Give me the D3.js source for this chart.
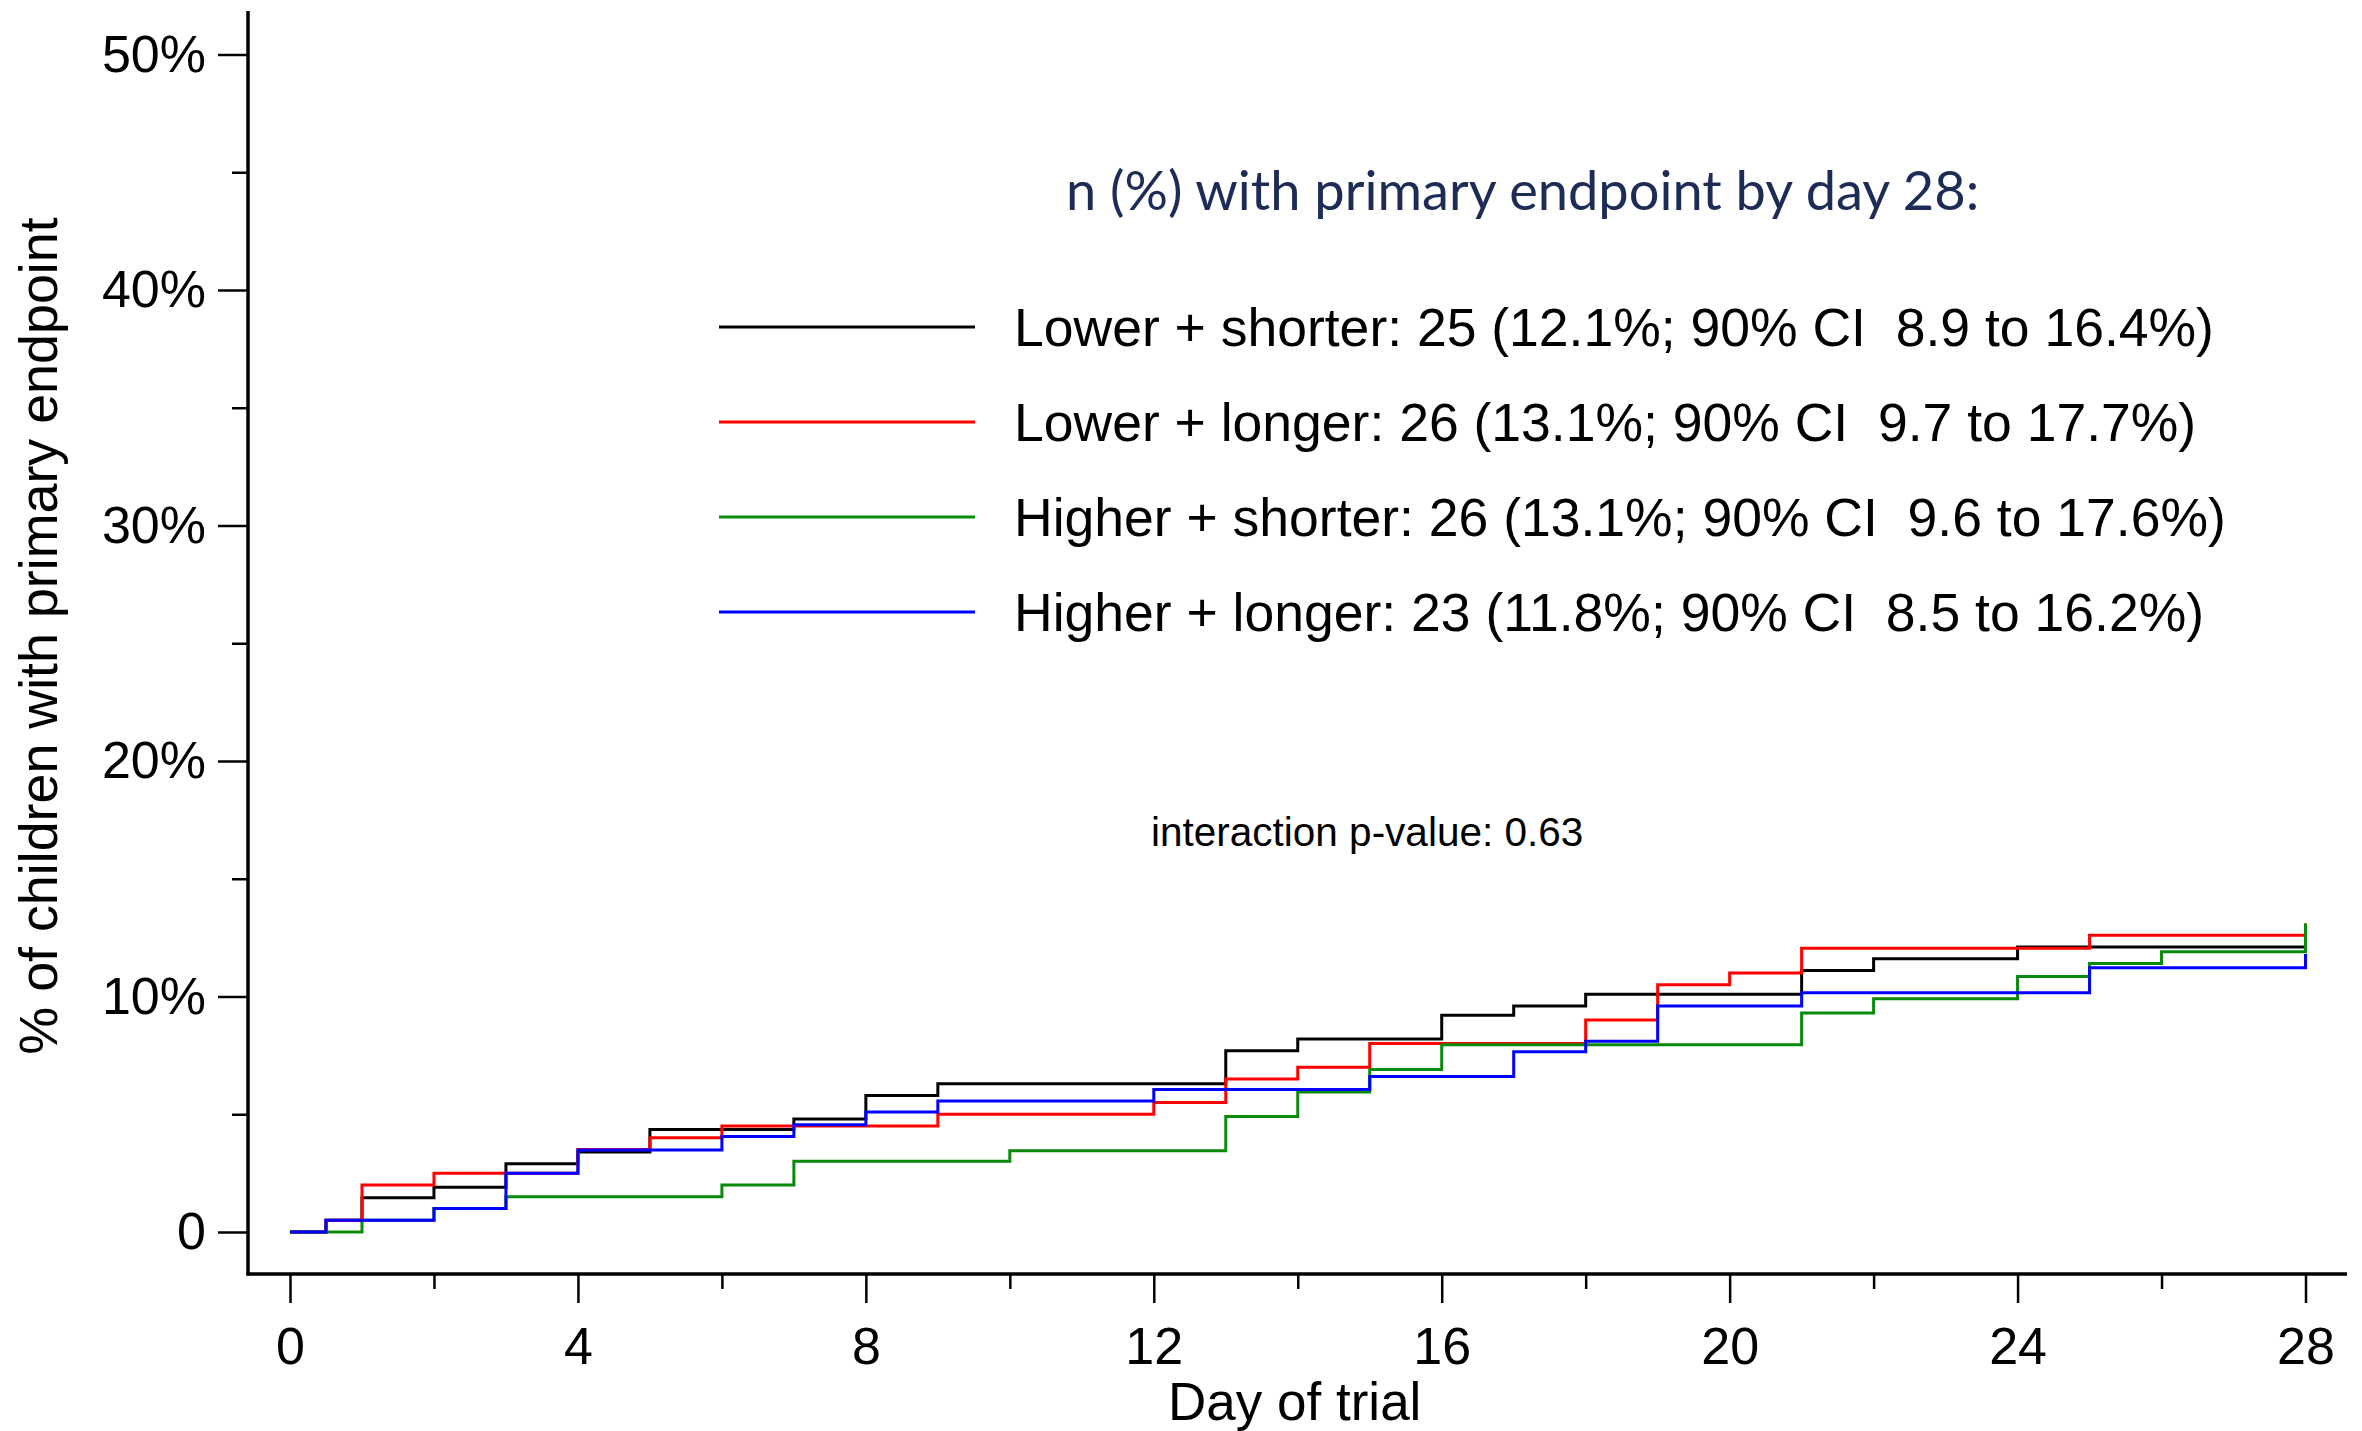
<!DOCTYPE html>
<html>
<head>
<meta charset="utf-8">
<script src="https://cdn.jsdelivr.net/npm/d3@7"></script>
<style>
  html, body { margin: 0; padding: 0; background: #fff; }
  svg { display: block; font-family: "Liberation Sans", Arial, sans-serif; }
  text { white-space: pre; }
</style>
</head>
<body>
<svg id="chart" width="2362" height="1431"></svg>
<script>
// Cumulative % with primary endpoint
const blackDays = [0, 0.5, 1, 2, 3, 4, 5, 7, 8, 9, 13, 14, 16, 17, 18, 21, 22, 24, 28];
const blackPct  = [0, 0.5, 1.45, 1.9, 2.9, 3.4, 4.35, 4.8, 5.8, 6.3, 7.7, 8.2, 9.2, 9.6, 10.1, 11.1, 11.6, 12.1, 12.1];

const redDays = [0, 0.5, 1, 2, 4, 5, 6, 9, 12, 13, 14, 15, 18, 19, 20, 21, 25, 28];
const redPct  = [0, 0.5, 2.0, 2.5, 3.5, 4.0, 4.5, 5.0, 5.5, 6.5, 7.0, 8.0, 9.0, 10.5, 11.0, 12.05, 12.6, 13.1];

const greenDays = [0, 1, 2, 3, 6, 7, 10, 13, 14, 15, 16, 21, 22, 24, 25, 26, 28];
const greenPct  = [0, 0.5, 1.0, 1.5, 2.0, 3.0, 3.45, 4.9, 5.95, 6.9, 7.95, 9.3, 9.9, 10.85, 11.4, 11.9, 13.1];

const blueDays = [0, 0.5, 2, 3, 4, 6, 7, 8, 9, 12, 15, 17, 18, 19, 21, 25, 28];
const bluePct  = [0, 0.5, 1.0, 2.5, 3.48, 4.05, 4.55, 5.1, 5.56, 6.05, 6.6, 7.65, 8.1, 9.6, 10.16, 11.22, 11.8];

const seriesNames = [
  "Lower + shorter: 25 (12.1%; 90% CI  8.9 to 16.4%)",
  "Lower + longer: 26 (13.1%; 90% CI  9.7 to 17.7%)",
  "Higher + shorter: 26 (13.1%; 90% CI  9.6 to 17.6%)",
  "Higher + longer: 23 (11.8%; 90% CI  8.5 to 16.2%)"
];
const seriesColors = ["#000000", "#ff0000", "#0a8a0a", "#0000ff"];

const yMajor = [0, 10, 20, 30, 40, 50];
const yMinor = [5, 15, 25, 35, 45];
const xMajor = [0, 4, 8, 12, 16, 20, 24, 28];
const xMinor = [2, 6, 10, 14, 18, 22, 26];

const legendTitle = "n (%) with primary endpoint by day 28:";
const noteText = "interaction p-value: 0.63";
const xTitle = "Day of trial";
const yTitle = "% of children with primary endpoint";

const svg = d3.select("#chart");

const x = d3.scaleLinear().domain([0, 28]).range([290, 2305.5]);
const y = d3.scaleLinear().domain([0, 50]).range([1232, 54.5]);

const axisX = 248, axisY = 1274;

// y axis ticks + labels
const yAxis = svg.append("g")
  .attr("transform", `translate(${axisX},0)`)
  .call(d3.axisLeft(y).tickValues(yMajor).tickSize(30).tickPadding(12)
    .tickFormat(d => d === 0 ? "0" : d + "%"));
yAxis.select(".domain").remove();
yAxis.selectAll("line").attr("stroke", "#000").attr("stroke-width", 2.5);
yAxis.selectAll("text").attr("font-size", 52).attr("fill", "#000")
  .attr("font-family", "Liberation Sans, Arial, sans-serif");

const yAxisMinor = svg.append("g")
  .attr("transform", `translate(${axisX},0)`)
  .call(d3.axisLeft(y).tickValues(yMinor).tickSize(16).tickFormat(""));
yAxisMinor.select(".domain").remove();
yAxisMinor.selectAll("line").attr("stroke", "#000").attr("stroke-width", 2.5);

// x axis ticks + labels
const xAxis = svg.append("g")
  .attr("transform", `translate(0,${axisY})`)
  .call(d3.axisBottom(x).tickValues(xMajor).tickSize(29).tickPadding(24));
xAxis.select(".domain").remove();
xAxis.selectAll("line").attr("stroke", "#000").attr("stroke-width", 2.5);
xAxis.selectAll("text").attr("font-size", 52).attr("fill", "#000")
  .attr("font-family", "Liberation Sans, Arial, sans-serif");

const xAxisMinor = svg.append("g")
  .attr("transform", `translate(0,${axisY})`)
  .call(d3.axisBottom(x).tickValues(xMinor).tickSize(15).tickFormat(""));
xAxisMinor.select(".domain").remove();
xAxisMinor.selectAll("line").attr("stroke", "#000").attr("stroke-width", 2.5);

// axis lines (they run past the data range)
svg.append("line")
  .attr("x1", axisX).attr("x2", axisX)
  .attr("y1", 11).attr("y2", axisY + 1.5)
  .attr("stroke", "#000").attr("stroke-width", 3.5);
svg.append("line")
  .attr("x1", axisX - 1.5).attr("x2", 2347)
  .attr("y1", axisY).attr("y2", axisY)
  .attr("stroke", "#000").attr("stroke-width", 3.5);

// axis titles
svg.append("text")
  .attr("x", (x(0) + x(28)) / 2 - 3)
  .attr("y", 1420)
  .attr("text-anchor", "middle")
  .attr("font-size", 53)
  .text(xTitle);

svg.append("text")
  .attr("transform", "translate(57,636) rotate(-90)")
  .attr("text-anchor", "middle")
  .attr("font-size", 53.8)
  .text(yTitle);

// step curves
const series = [
  { days: blackDays, pct: blackPct },
  { days: redDays, pct: redPct },
  { days: greenDays, pct: greenPct },
  { days: blueDays, pct: bluePct }
];

const line = d3.line()
  .x(d => x(d[0]))
  .y(d => y(d[1]))
  .curve(d3.curveStepAfter);

series.forEach((s, i) => {
  const pts = s.days.map((d, j) => [d, s.pct[j]]);
  svg.append("path")
    .attr("d", line(pts))
    .attr("fill", "none")
    .attr("stroke", seriesColors[i])
    .attr("stroke-width", 3);
});

// legend
svg.append("text")
  .attr("x", 1066)
  .attr("y", 210)
  .attr("font-family", "Lato, 'Open Sans', sans-serif")
  .attr("font-size", 54.2)
  .attr("fill", "#1d2b57")
  .text(legendTitle);

const legendRows = [327, 422, 517, 612];
seriesNames.forEach((name, i) => {
  svg.append("line")
    .attr("x1", 719).attr("x2", 975)
    .attr("y1", legendRows[i]).attr("y2", legendRows[i])
    .attr("stroke", seriesColors[i]).attr("stroke-width", 3);
  svg.append("text")
    .attr("x", 1014)
    .attr("y", legendRows[i] + 19)
    .attr("font-size", 53.5)
    .attr("fill", "#000")
    .text(name);
});

svg.append("text")
  .attr("x", 1151)
  .attr("y", 846)
  .attr("font-size", 40.5)
  .attr("fill", "#000")
  .text(noteText);
</script>
</body>
</html>
